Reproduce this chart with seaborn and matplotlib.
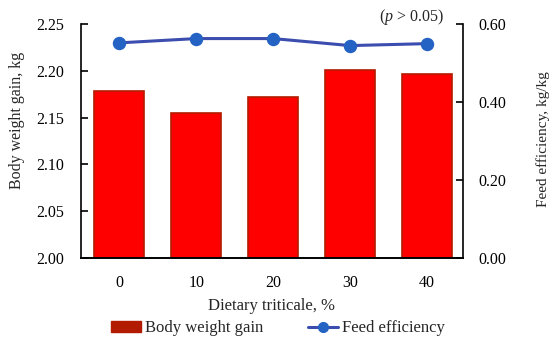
import matplotlib
matplotlib.use("Agg")
import matplotlib.pyplot as plt
import seaborn as sns
import pandas as pd
from matplotlib.patches import Patch
from matplotlib.lines import Line2D

# data
triticale = ["0", "10", "20", "30", "40"]
body_weight_gain = [2.179, 2.155, 2.172, 2.201, 2.197]
feed_efficiency = [0.552, 0.563, 0.563, 0.545, 0.550]

BAR_FACE = "#FF0000"
BAR_EDGE = "#B31B00"
LINE_COL = "#3B4DAE"
MARK_COL = "#2462C4"

sns.set_theme(style="white")
plt.rcParams["font.family"] = ["Liberation Serif", "DejaVu Serif"]
plt.rcParams["mathtext.fontset"] = "custom"
plt.rcParams["mathtext.it"] = "Liberation Serif:italic"
plt.rcParams["mathtext.rm"] = "Liberation Serif"

df = pd.DataFrame({"triticale": triticale, "bwg": body_weight_gain, "fe": feed_efficiency})

fig = plt.figure(figsize=(5.5, 3.45), dpi=100)
ax = fig.add_axes([0.147, 0.252, 0.695, 0.678])

sns.barplot(df, x="triticale", y="bwg", color=BAR_FACE, width=0.65,
            edgecolor=BAR_EDGE, linewidth=1.2, saturation=1, ax=ax)
ax.set_ylim(2.0, 2.25)
ax.set_yticks([2.00, 2.05, 2.10, 2.15, 2.20, 2.25])
ax.set_yticklabels([f"{v:.2f}" for v in [2.00, 2.05, 2.10, 2.15, 2.20, 2.25]])
ax.set_xlim(-0.5, 4.47)
ax.set_xlabel("Dietary triticale, %", fontsize=12, labelpad=5)
ax.set_ylabel("Body weight gain, kg", fontsize=11.5)
ax.yaxis.set_label_coords(-0.145, 0.59)

ax2 = ax.twinx()
sns.pointplot(df, x="triticale", y="fe", color=LINE_COL, markers="o",
              markersize=8, linewidth=2.2, ax=ax2)
for coll in ax2.collections:
    coll.set_facecolor(MARK_COL)
    coll.set_edgecolor(MARK_COL)
for ln in ax2.lines:
    ln.set_markerfacecolor(MARK_COL)
    ln.set_markeredgecolor(MARK_COL)
ax2.set_ylim(0, 0.6)
ax2.set_yticks([0.0, 0.2, 0.4, 0.6])
ax2.set_yticklabels([f"{v:.2f}" for v in [0.0, 0.2, 0.4, 0.6]])
ax2.set_xlim(-0.5, 4.47)
ax2.set_ylabel("Feed efficiency, kg/kg", fontsize=11)
ax2.yaxis.set_label_coords(1.19, 0.51)

for a in (ax, ax2):
    a.spines["top"].set_visible(False)
    for s in ("left", "right", "bottom"):
        a.spines[s].set_color("black")
        a.spines[s].set_linewidth(1.2)
    a.tick_params(axis="y", direction="in", length=5, width=1.2, labelsize=11.5, colors="black")
    a.tick_params(axis="x", length=0, labelsize=11.5, pad=12, colors="black")
ax2.spines["left"].set_visible(False)
ax.spines["right"].set_visible(False)
ax.tick_params(axis="y", pad=12)
ax2.tick_params(axis="y", pad=11)

ax.text(0.95, 1.03, r"($p$ > 0.05)", transform=ax.transAxes, ha="right",
        va="center", fontsize=11.5)

handles = [Patch(facecolor=BAR_EDGE, edgecolor=BAR_EDGE),
           Line2D([], [], color=LINE_COL, lw=2.2, marker="o", markersize=7,
                  markerfacecolor=MARK_COL, markeredgecolor=MARK_COL)]
fig.legend(handles, ["Body weight gain", "Feed efficiency"], loc="center",
           bbox_to_anchor=(0.505, 0.048), ncol=2, frameon=False, fontsize=12,
           columnspacing=2.7, handlelength=1.8, handletextpad=0.25)

fig.savefig("out.png", dpi=100)
